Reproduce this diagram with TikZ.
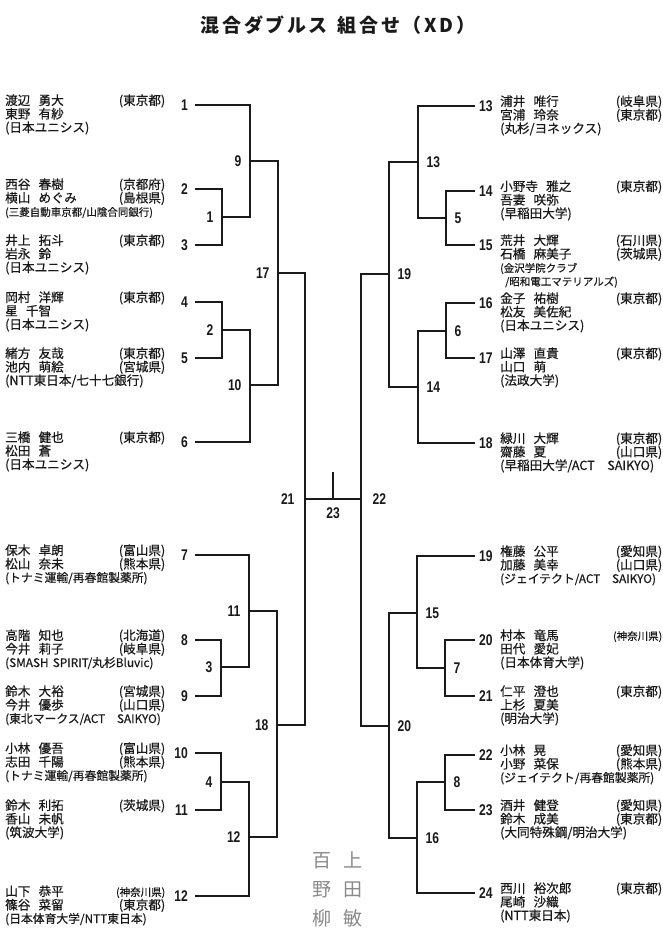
\documentclass[tikz,border=0pt]{standalone}
\usepackage{fontspec}
\setmainfont{Noto Sans CJK JP}
\newfontfamily\teamfont{Noto Sans CJK JP}[FakeBold=0.5]
\newfontfamily\titlefont{Noto Sans CJK JP}[LetterSpace=14]
\newfontfamily\numfont[FakeStretch=0.78]{Liberation Sans}
\usetikzlibrary{positioning}
\definecolor{inkgray}{HTML}{1A1A1A}
\definecolor{pencilgray}{HTML}{8A8A8A}

\newcommand\nm[2]{#1\hspace{0.65em}#2}
\newcommand\tline[2]{\makebox[\linewidth][l]{#1\hfill#2}}
\newcommand\affs{\fontsize{10.5}{13.5}\selectfont}
\newcommand\affm{\fontsize{11.8}{13.5}\selectfont}

\begin{document}
\begin{tikzpicture}[
    x=1pt, y=-1pt,
    bline/.style={line width=1.1pt, inkgray},
    numL/.style={font=\numfont\bfseries\fontsize{15.5}{16}\selectfont, text=inkgray,
      anchor=east, inner xsep=7pt, inner ysep=0pt},
    numR/.style={font=\numfont\bfseries\fontsize{15.5}{16}\selectfont, text=inkgray,
      anchor=west, inner xsep=4pt, inner ysep=0pt},
    mlbl/.style={font=\numfont\bfseries\fontsize{15.5}{16}\selectfont, text=inkgray},
    mL/.style={mlbl, anchor=east, xshift=-5pt},
    mR/.style={mlbl, anchor=west, xshift=5pt},
    teamL/.style={anchor=base west, text width=160pt, align=left, inner sep=0pt,
      font=\teamfont\fontsize{12.6}{13.5}\selectfont, text=inkgray},
    teamR/.style={teamL, text width=162pt},
    pencil/.style={font=\fontsize{19}{29}\selectfont, text=pencilgray,
      text width=24pt, align=center, anchor=base, inner sep=0pt},
  ]

  % background / page size
  \fill[white] (0,0) rectangle (663,936);
  \useasboundingbox (0,0) rectangle (663,936);

  % Title
  \node[font=\titlefont\bfseries\fontsize{19}{20}\selectfont, text=inkgray] (title) at (338,25)
    {混合ダブルス\hspace{3pt} 組合せ（XD）};

  % =================== LEFT HALF ===================
  \node[numL] (n1) at (195,105) {1};
  \node[numL] (n2) at (195,189) {2};
  \node[numL] (n3) at (195,245) {3};
  \node[numL] (n4) at (195,302) {4};
  \node[numL] (n5) at (195,358) {5};
  \node[numL] (n6) at (195,442) {6};
  \node[numL] (n7) at (195,555) {7};
  \node[numL] (n8) at (195,640) {8};
  \node[numL] (n9) at (195,696) {9};
  \node[numL] (n10) at (195,753) {10};
  \node[numL] (n11) at (195,810) {11};
  \node[numL] (n12) at (195,896) {12};

  \node[teamL] (t1) at (5,105) {\tline{\nm{渡辺}{勇大}}{(東京都)}\\\nm{東野}{有紗}\\(日本ユニシス)};
  \node[teamL] (t2) at (5,189) {\tline{\nm{西谷}{春樹}}{(京都府)}\\\tline{\nm{横山}{めぐみ}}{(島根県)}\\{\affs (三菱自動車京都/山陰合同銀行)}};
  \node[teamL] (t3) at (5,245) {\tline{\nm{井上}{拓斗}}{(東京都)}\\\nm{岩永}{鈴}\\(日本ユニシス)};
  \node[teamL] (t4) at (5,302) {\tline{\nm{岡村}{洋輝}}{(東京都)}\\\nm{星}{千智}\\(日本ユニシス)};
  \node[teamL] (t5) at (5,358) {\tline{\nm{緒方}{友哉}}{(東京都)}\\\tline{\nm{池内}{萌絵}}{(宮城県)}\\(NTT東日本/七十七銀行)};
  \node[teamL] (t6) at (5,442) {\tline{\nm{三橋}{健也}}{(東京都)}\\\nm{松田}{蒼}\\(日本ユニシス)};
  \node[teamL] (t7) at (5,555) {\tline{\nm{保木}{卓朗}}{(富山県)}\\\tline{\nm{松山}{奈未}}{(熊本県)}\\{\affm (トナミ運輸/再春館製薬所)}};
  \node[teamL] (t8) at (5,640) {\tline{\nm{高階}{知也}}{(北海道)}\\\tline{\nm{今井}{莉子}}{(岐阜県)}\\{\affm (SMASH SPIRIT/丸杉Bluvic)}};
  \node[teamL] (t9) at (5,696) {\tline{\nm{鈴木}{大裕}}{(宮城県)}\\\tline{\nm{今井}{優歩}}{(山口県)}\\{\affm (東北マークス/ACT\quad SAIKYO)}};
  \node[teamL] (t10) at (5,753) {\tline{\nm{小林}{優吾}}{(富山県)}\\\tline{\nm{志田}{千陽}}{(熊本県)}\\{\affm (トナミ運輸/再春館製薬所)}};
  \node[teamL] (t11) at (5,810) {\tline{\nm{鈴木}{利拓}}{(茨城県)}\\\nm{香山}{未帆}\\(筑波大学)};
  \node[teamL] (t12) at (5,896) {\tline{\nm{山下}{恭平}}{{\affs (神奈川県)}}\\\tline{\nm{篠谷}{菜留}}{(東京都)}\\{\affm (日本体育大学/NTT東日本)}};

  % match points (left)
  \coordinate (m1) at (222,217);
  \coordinate (m2) at (222,330);
  \coordinate (m3) at (221,667);
  \coordinate (m4) at (221,782);
  \coordinate (m9) at (250,161);
  \coordinate (m10) at (250,385);
  \coordinate (m11) at (249,611);
  \coordinate (m12) at (249,837);
  \coordinate (m17) at (278,273);
  \coordinate (m18) at (277,725);
  \coordinate (m21) at (305,499);

  \draw[bline] (n2.east) -| (m1) |- (n3.east);
  \draw[bline] (n1.east) -| (m9) |- (m1);
  \draw[bline] (n4.east) -| (m2) |- (n5.east);
  \draw[bline] (m2) -| (m10) |- (n6.east);
  \draw[bline] (m9) -| (m17) |- (m10);
  \draw[bline] (n8.east) -| (m3) |- (n9.east);
  \draw[bline] (n7.east) -| (m11) |- (m3);
  \draw[bline] (n10.east) -| (m4) |- (n11.east);
  \draw[bline] (m4) -| (m12) |- (n12.east);
  \draw[bline] (m11) -| (m18) |- (m12);
  \draw[bline] (m17) -| (m21) |- (m18);

  \node[mL] (l1) at (m1) {1};
  \node[mL] (l2) at (m2) {2};
  \node[mL] (l3) at (m3) {3};
  \node[mL] (l4) at (m4) {4};
  \node[mL] (l9) at (m9) {9};
  \node[mL] (l10) at (m10) {10};
  \node[mL] (l11) at (m11) {11};
  \node[mL] (l12) at (m12) {12};
  \node[mL] (l17) at (m17) {17};
  \node[mL] (l18) at (m18) {18};
  \node[mL, xshift=-2pt] (l21) at (m21) {21};

  % =================== RIGHT HALF ===================
  \node[numR] (n13) at (475,106) {13};
  \node[numR] (n14) at (475,191) {14};
  \node[numR] (n15) at (475,245) {15};
  \node[numR] (n16) at (475,303) {16};
  \node[numR] (n17) at (475,358) {17};
  \node[numR] (n18) at (475,443) {18};
  \node[numR] (n19) at (475,556) {19};
  \node[numR] (n20) at (475,640) {20};
  \node[numR] (n21) at (475,696) {21};
  \node[numR] (n22) at (475,755) {22};
  \node[numR] (n23) at (475,810) {23};
  \node[numR] (n24) at (475,893) {24};

  \node[teamR] (t13) at (500,106) {\tline{\nm{浦井}{唯行}}{(岐阜県)}\\\tline{\nm{宮浦}{玲奈}}{(東京都)}\\(丸杉/ヨネックス)};
  \node[teamR] (t14) at (500,191) {\tline{\nm{小野寺}{雅之}}{(東京都)}\\\nm{吾妻}{咲弥}\\(早稲田大学)};
  \node[teamR] (t15) at (500,245) {\tline{\nm{荒井}{大輝}}{(石川県)}\\\tline{\nm{石橋}{麻美子}}{(茨城県)}\\{\affs (金沢学院クラブ}\\{\affs\hspace*{5pt}/昭和電工マテリアルズ)}};
  \node[teamR] (t16) at (500,303) {\tline{\nm{金子}{祐樹}}{(東京都)}\\\nm{松友}{美佐紀}\\(日本ユニシス)};
  \node[teamR] (t17) at (500,358) {\tline{\nm{山澤}{直貴}}{(東京都)}\\\nm{山口}{萌}\\(法政大学)};
  \node[teamR] (t18) at (500,443) {\tline{\nm{緑川}{大輝}}{(東京都)}\\\tline{\nm{齋藤}{夏}}{(山口県)}\\(早稲田大学/ACT\quad SAIKYO)};
  \node[teamR] (t19) at (500,556) {\tline{\nm{権藤}{公平}}{(愛知県)}\\\tline{\nm{加藤}{美幸}}{(山口県)}\\{\affm (ジェイテクト/ACT\quad SAIKYO)}};
  \node[teamR] (t20) at (500,640) {\tline{\nm{村本}{竜馬}}{{\affs (神奈川県)}}\\\nm{田代}{愛妃}\\(日本体育大学)};
  \node[teamR] (t21) at (500,696) {\tline{\nm{仁平}{澄也}}{(東京都)}\\\nm{上杉}{夏美}\\(明治大学)};
  \node[teamR] (t22) at (500,755) {\tline{\nm{小林}{晃}}{(愛知県)}\\\tline{\nm{小野}{菜保}}{(熊本県)}\\{\affm (ジェイテクト/再春館製薬所)}};
  \node[teamR] (t23) at (500,810) {\tline{\nm{酒井}{健登}}{(愛知県)}\\\tline{\nm{鈴木}{成美}}{(東京都)}\\(大同特殊鋼/明治大学)};
  \node[teamR] (t24) at (500,893) {\tline{\nm{西川}{裕次郎}}{(東京都)}\\\nm{尾崎}{沙織}\\(NTT東日本)};

  % match points (right)
  \coordinate (m5) at (446,218);
  \coordinate (m6) at (446,331);
  \coordinate (m7) at (445,668);
  \coordinate (m8) at (445,782);
  \coordinate (m13) at (418,162);
  \coordinate (m14) at (418,387);
  \coordinate (m15) at (417,613);
  \coordinate (m16) at (417,838);
  \coordinate (m19) at (389,274);
  \coordinate (m20) at (389,726);
  \coordinate (m22) at (361,499);

  \draw[bline] (n14.west) -| (m5) |- (n15.west);
  \draw[bline] (n13.west) -| (m13) |- (m5);
  \draw[bline] (n16.west) -| (m6) |- (n17.west);
  \draw[bline] (m6) -| (m14) |- (n18.west);
  \draw[bline] (m13) -| (m19) |- (m14);
  \draw[bline] (n20.west) -| (m7) |- (n21.west);
  \draw[bline] (n19.west) -| (m15) |- (m7);
  \draw[bline] (n22.west) -| (m8) |- (n23.west);
  \draw[bline] (m8) -| (m16) |- (n24.west);
  \draw[bline] (m15) -| (m20) |- (m16);
  \draw[bline] (m19) -| (m22) |- (m20);

  \node[mR] (l5) at (m5) {5};
  \node[mR] (l6) at (m6) {6};
  \node[mR] (l7) at (m7) {7};
  \node[mR] (l8) at (m8) {8};
  \node[mR] (l13) at (m13) {13};
  \node[mR] (l14) at (m14) {14};
  \node[mR] (l15) at (m15) {15};
  \node[mR] (l16) at (m16) {16};
  \node[mR] (l19) at (m19) {19};
  \node[mR] (l20) at (m20) {20};
  \node[mR, xshift=3pt] (l22) at (m22) {22};

  % =================== FINAL ===================
  \coordinate (m23) at (333,499);
  \coordinate (ftop) at (333,472);
  \draw[bline] (m21) -- (m22);
  \draw[bline] (m23) -- (ftop);
  \node[mlbl, below=5pt of m23] (l23) {23};

  % pencil note
  \node[pencil] (pn1) at (322,867) {百\\野\\柳};
  \node[pencil] (pn2) at (353,867) {上\\田\\敏};

\end{tikzpicture}
\end{document}
